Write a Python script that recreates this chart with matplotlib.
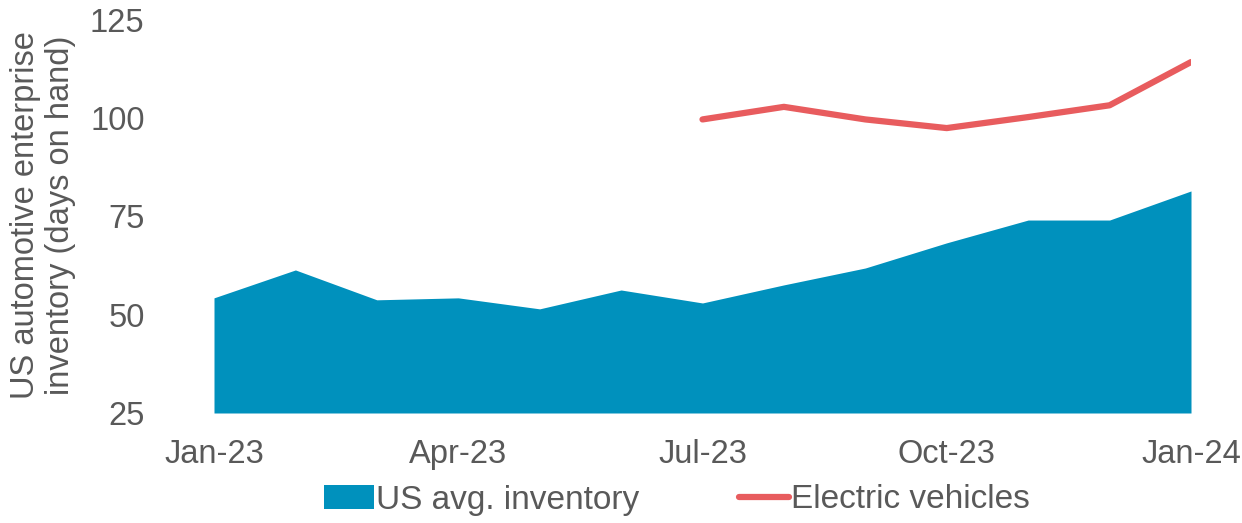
import matplotlib
matplotlib.use("Agg")
import matplotlib.pyplot as plt
from matplotlib.patches import Patch
from matplotlib.lines import Line2D

# data (monthly, Jan-23 .. Jan-24)
months = ["Jan-23", "Feb-23", "Mar-23", "Apr-23", "May-23", "Jun-23", "Jul-23",
          "Aug-23", "Sep-23", "Oct-23", "Nov-23", "Dec-23", "Jan-24"]
us_avg = [54.3, 61.4, 53.8, 54.3, 51.5, 56.3, 53.0, 57.6, 61.9, 68.3, 74.1, 74.1, 81.5]
ev_months = months[6:]
ev = [99.7, 102.9, 99.7, 97.5, 100.3, 103.3, 114.3]
tick_labels = ["Jan-23", "Apr-23", "Jul-23", "Oct-23", "Jan-24"]

blue = "#0091BD"
red = "#E85C5E"
grey = "#595959"

plt.rcParams['font.family'] = ['Liberation Sans', 'DejaVu Sans']

fig = plt.figure(figsize=(12.42, 5.23), dpi=100)
ax = fig.add_axes([214/1242, 110/523, 977/1242, 393/523])

x = list(range(len(months)))
ev_x = [months.index(m) for m in ev_months]
ax.fill_between(x, 25, us_avg, color=blue, linewidth=0)
ax.plot(ev_x, ev, color=red, linewidth=4.5, solid_capstyle='round', solid_joinstyle='round')

ax.set_xlim(0, 12)
ax.set_ylim(25, 125)
ax.set_yticks([25, 50, 75, 100, 125])
ax.set_xticks([months.index(t) for t in tick_labels])
ax.set_xticklabels(tick_labels)
ax.tick_params(axis='y', length=0, pad=50, labelsize=23.5, labelcolor=grey)
ax.tick_params(axis='x', length=0, pad=19, labelsize=23.5, labelcolor=grey)
for s in ax.spines.values():
    s.set_visible(False)

fig.text(43/1242, 1 - 215/523, "US automotive enterprise\ninventory (days on hand)",
         rotation=90, ha='center', va='center', fontsize=23.5, color=grey,
         linespacing=1.15)

handles = [Patch(facecolor=blue, edgecolor='none'),
           Line2D([0], [0], color=red, linewidth=4.5, solid_capstyle='round')]
leg = fig.legend(handles, ["US avg. inventory", "Electric vehicles"],
                 loc='center', bbox_to_anchor=(677/1242, 1 - 500/523), ncol=2,
                 frameon=False, fontsize=24, handlelength=1.5, handleheight=0.7,
                 handletextpad=0.06, columnspacing=3.0, labelcolor=grey)

fig.savefig("out.png", dpi=100)
